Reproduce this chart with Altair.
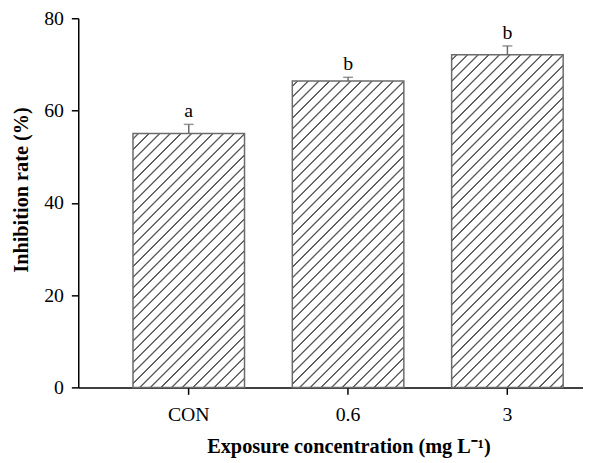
import altair as alt
import pandas as pd

# ---- data ----
categories = ["CON", "0.6", "3"]
means = [55.0, 66.4, 72.1]
errors = [2.0, 0.8, 1.9]
letters = ["a", "b", "b"]

df = pd.DataFrame({"cat": categories, "mean": means, "err": errors, "letter": letters})

# ---- layout ----
W_PLOT, H_PLOT, Y_MAX = 510, 373, 80
P_IN, P_OUT, ALIGN = 0.30, 0.234, 0.734
step = W_PLOT / (len(categories) - P_IN + 2 * P_OUT)
band = step * (1 - P_IN)

FONT = "Liberation Serif"
GRAY = "#6b6b6b"


def hatch(w, h, period=7.6, lw=0.35, soft=1.0, color="#5a5a5a"):
    """Diagonal '/' hatch as a linear gradient in bbox units."""
    L = (w + h) / 2 ** 0.5
    s = (w + h) / (w * w + h * h)
    stops = [{"offset": 0, "color": "white"}]
    c = period / 2
    while c < L:
        for off, col in [(c - soft, "white"), (c - lw, color), (c + lw, color), (c + soft, "white")]:
            stops.append({"offset": min(max(off / L, 0.0), 1.0), "color": col})
        c += period
    stops.append({"offset": 1, "color": "white"})
    return {"gradient": "linear", "x1": 0, "y1": 0, "x2": w * s, "y2": h * s, "stops": stops}


xscale = alt.Scale(domain=categories, paddingInner=P_IN, paddingOuter=P_OUT, align=ALIGN)
yscale = alt.Scale(domain=[0, Y_MAX], nice=False)

x_enc = alt.X("cat:N", scale=xscale, sort=categories,
              axis=alt.Axis(title="Exposure concentration (mg L\u207b\u00b9)", labelAngle=0,
                            titleX=273, labelPadding=10, titlePadding=13))
y_enc = alt.Y("mean:Q", scale=yscale,
              axis=alt.Axis(title="Inhibition rate (%)", values=[0, 20, 40, 60, 80],
                            titleY=173, titlePadding=12, labelPadding=8))

base = alt.Chart(df)

bars = []
for c, m in zip(categories, means):
    h = m * H_PLOT / Y_MAX
    bars.append(
        base.transform_filter(alt.datum.cat == c)
        .mark_bar(fill=hatch(band, h), stroke=GRAY, strokeWidth=1.5)
        .encode(x=x_enc, y=y_enc)
    )

err_base = base.transform_calculate(upper="datum.mean + datum.err")

err_rule = err_base.mark_rule(color=GRAY, strokeWidth=1.5).encode(
    x=alt.X("cat:N", scale=xscale, sort=categories),
    y=alt.Y("mean:Q", scale=yscale),
    y2="upper:Q",
)
err_cap = err_base.mark_tick(color=GRAY, thickness=1.5, size=10, orient="horizontal").encode(
    x=alt.X("cat:N", scale=xscale, sort=categories),
    y=alt.Y("upper:Q", scale=yscale),
)
labels = err_base.mark_text(font=FONT, fontSize=20, baseline="bottom", dy=-3, color="black").encode(
    x=alt.X("cat:N", scale=xscale, sort=categories),
    y=alt.Y("upper:Q", scale=yscale),
    text="letter:N",
)

chart = (
    alt.layer(*bars, err_rule, err_cap, labels)
    .properties(
        width=W_PLOT,
        height=H_PLOT,
        autosize=alt.AutoSizeParams(type="none"),
        padding={"left": 71, "top": 8, "right": 0, "bottom": 70},
    )
    .configure_view(stroke=None)
    .configure_axis(
        grid=False,
        domainColor="black",
        domainWidth=1.5,
        tickColor="black",
        tickWidth=1.5,
        tickSize=7,
        labelFont=FONT,
        labelFontSize=20,
        labelColor="black",
        titleFont=FONT,
        titleFontSize=20.5,
        titleFontWeight="bold",
        titleColor="black",
    )
)

chart.save("out.html", embed_options={"renderer": "svg", "actions": False})
